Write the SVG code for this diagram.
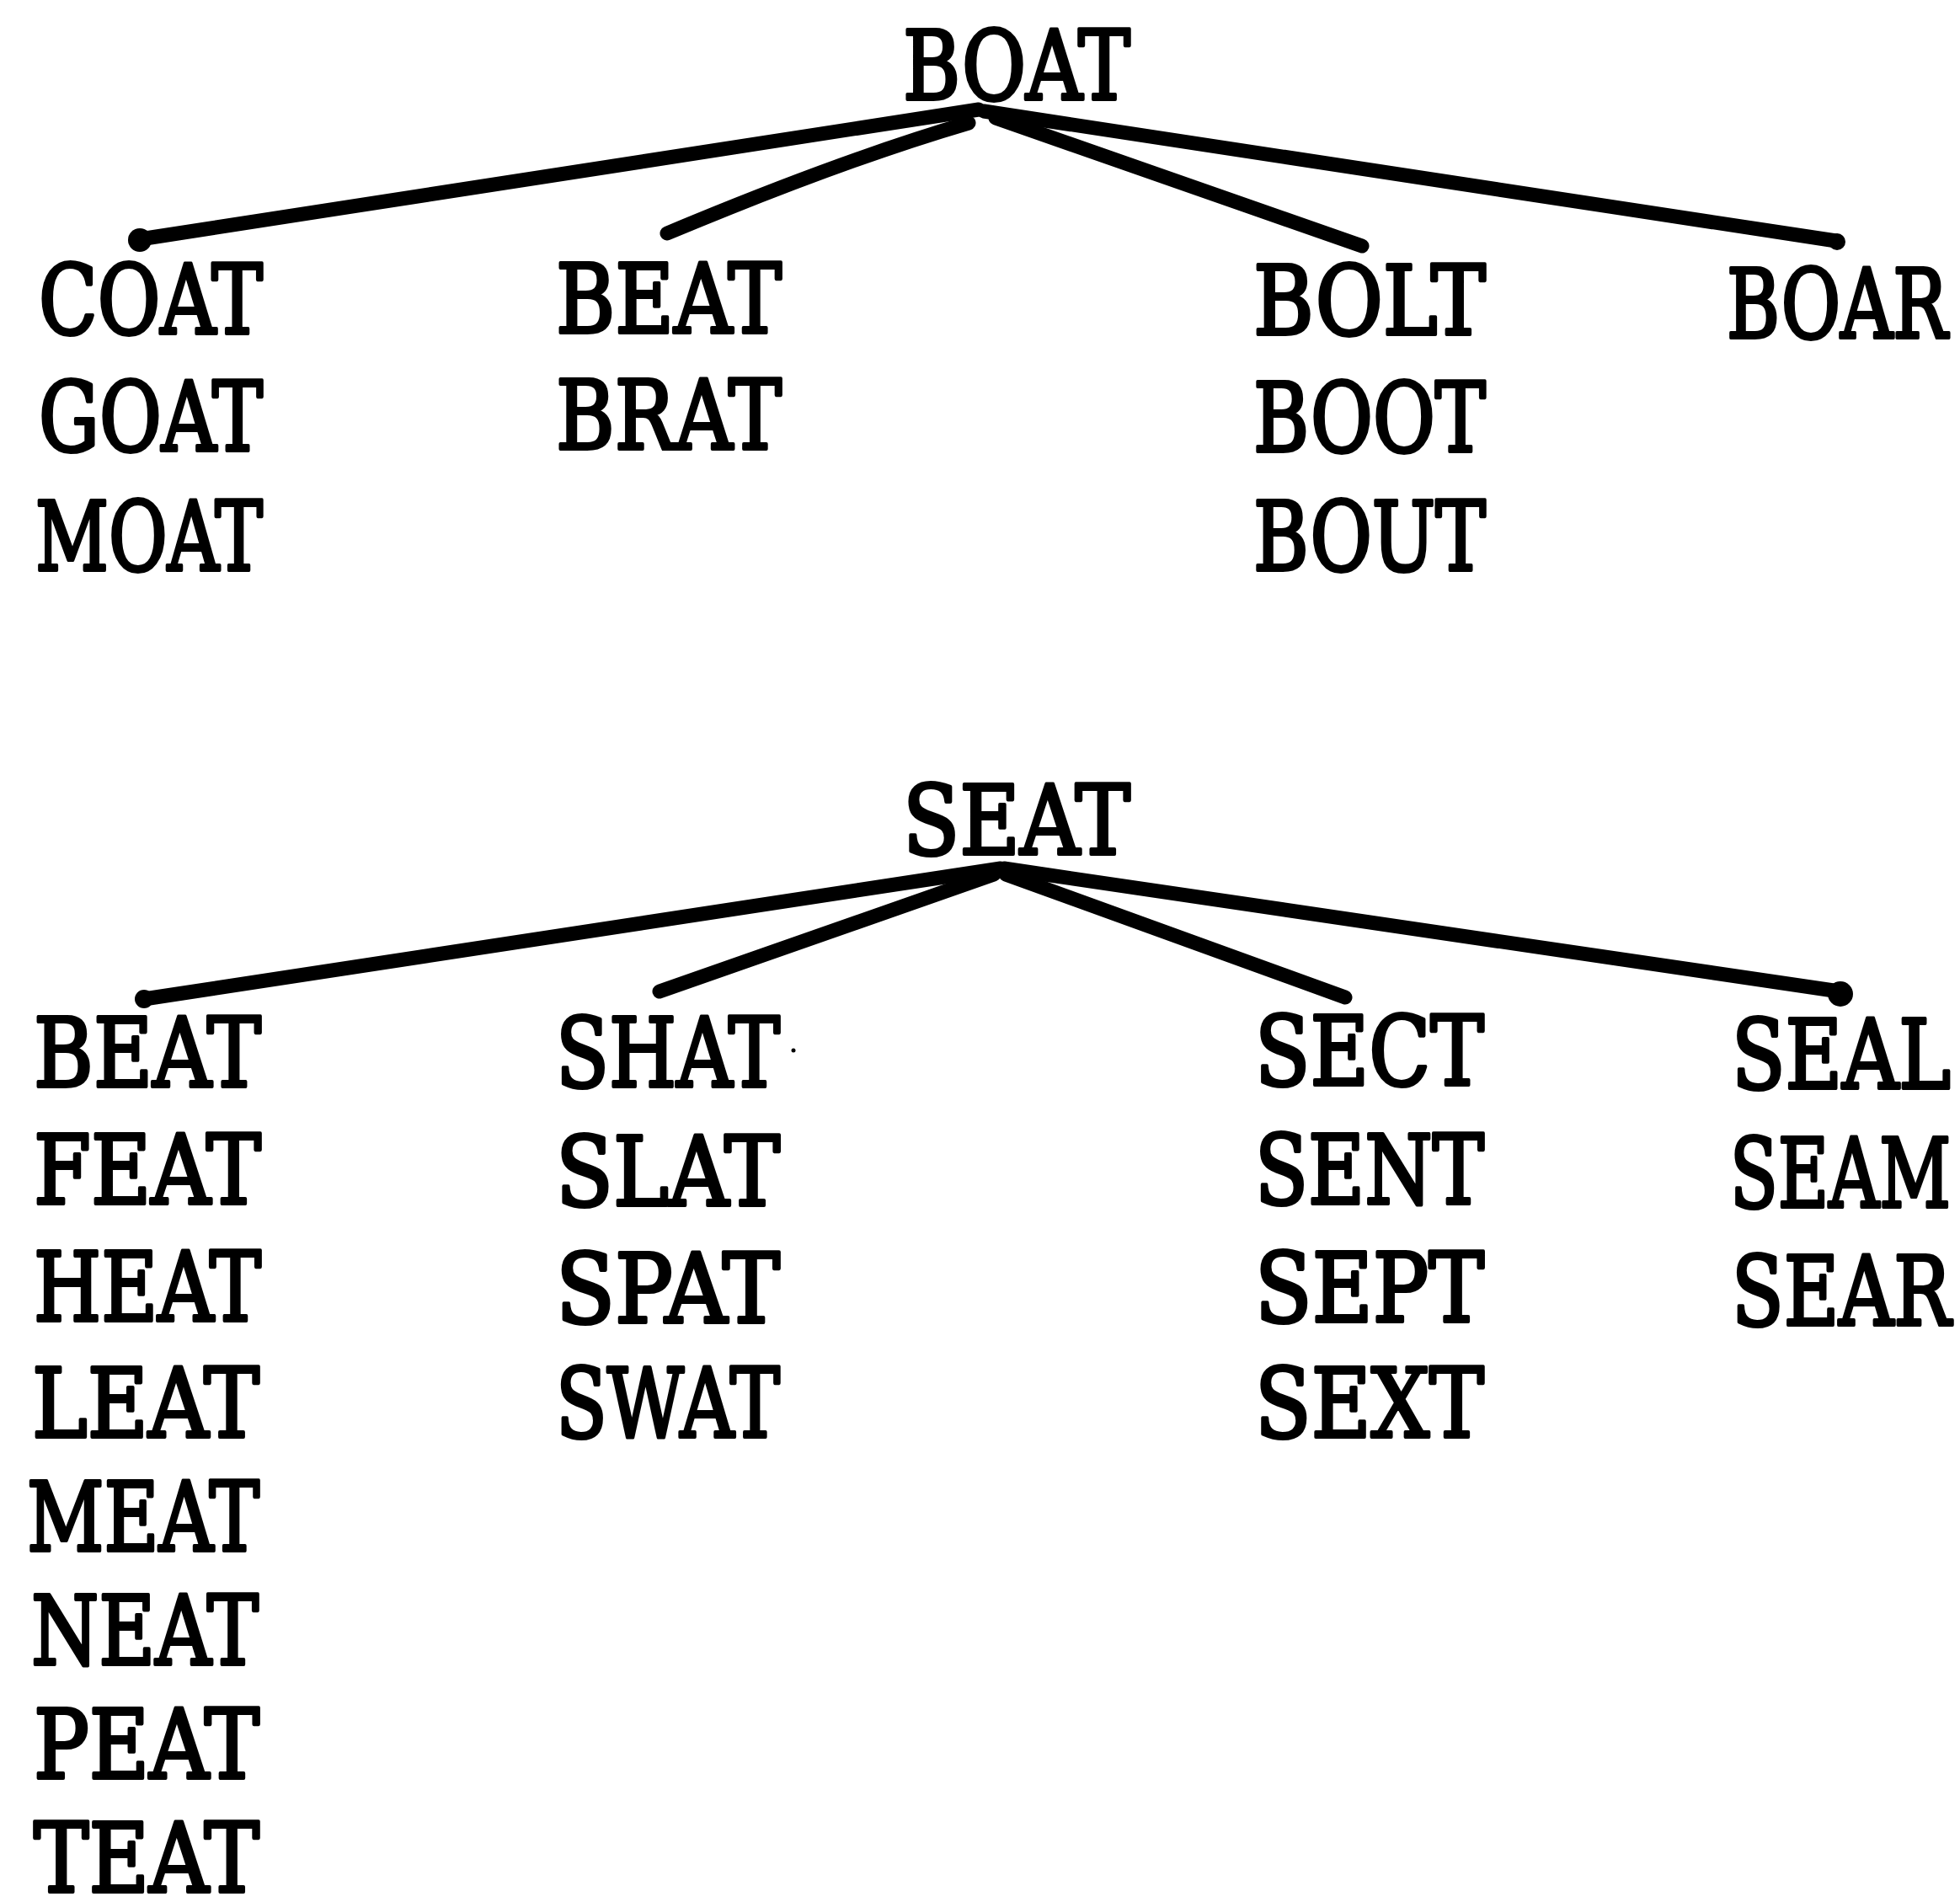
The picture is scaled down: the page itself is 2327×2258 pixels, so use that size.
<svg xmlns="http://www.w3.org/2000/svg" width="2327" height="2258" viewBox="0 0 2327 2258">
<style>
text{font-family:"DejaVu Serif","Liberation Serif",serif;font-weight:normal;font-size:92px;fill:#000;stroke:#000;stroke-width:3.4;stroke-linejoin:round}
.c{stroke:#000;stroke-linecap:round;fill:none;stroke-width:17}
</style>
<rect width="2327" height="2258" fill="#fff"/>
<g id="connectors">
<line class="c" x1="1162" y1="130" x2="166" y2="284"/>
<path class="c" d="M1150 146 Q1000 190 792 277"/>
<line class="c" x1="1182" y1="140" x2="1617" y2="292"/>
<line class="c" x1="1168" y1="132" x2="2180" y2="286"/>
<circle cx="166" cy="285" r="14"/>
<circle cx="2181" cy="287" r="10"/>
<line class="c" x1="1188" y1="1031" x2="171" y2="1186"/>
<line class="c" x1="1180" y1="1038" x2="783" y2="1177"/>
<line class="c" x1="1194" y1="1038" x2="1597" y2="1184"/>
<line class="c" x1="1192" y1="1031" x2="2184" y2="1177"/>
<circle cx="2185" cy="1180" r="15"/>
<circle cx="171" cy="1186" r="11"/>
</g>
<g id="boat"><text transform="translate(1072,118) scale(1,1.24)" textLength="270" lengthAdjust="spacingAndGlyphs">BOAT</text></g>
<g id="col-coat">
<text transform="translate(46,396) scale(1,1.24)" textLength="266" lengthAdjust="spacingAndGlyphs">COAT</text>
<text transform="translate(46,535) scale(1,1.24)" textLength="266" lengthAdjust="spacingAndGlyphs">GOAT</text>
<text transform="translate(42,677) scale(1,1.24)" textLength="270" lengthAdjust="spacingAndGlyphs">MOAT</text>
</g>
<g id="col-beat">
<text transform="translate(660,395) scale(1,1.24)" textLength="268" lengthAdjust="spacingAndGlyphs">BEAT</text>
<text transform="translate(660,533) scale(1,1.24)" textLength="268" lengthAdjust="spacingAndGlyphs">BRAT</text>
</g>
<g id="col-bolt">
<text transform="translate(1488,397) scale(1,1.24)" textLength="276" lengthAdjust="spacingAndGlyphs">BOLT</text>
<text transform="translate(1488,536) scale(1,1.24)" textLength="276" lengthAdjust="spacingAndGlyphs">BOOT</text>
<text transform="translate(1488,677) scale(1,1.24)" textLength="276" lengthAdjust="spacingAndGlyphs">BOUT</text>
</g>
<g id="col-boar"><text transform="translate(2050,401) scale(1,1.24)" textLength="262" lengthAdjust="spacingAndGlyphs">BOAR</text></g>
<g id="seat"><text transform="translate(1072,1014) scale(1,1.24)" textLength="270" lengthAdjust="spacingAndGlyphs">SEAT</text></g>
<g id="col-beat2">
<text transform="translate(40,1290) scale(1,1.24)" textLength="270" lengthAdjust="spacingAndGlyphs">BEAT</text>
<text transform="translate(40,1429) scale(1,1.24)" textLength="270" lengthAdjust="spacingAndGlyphs">FEAT</text>
<text transform="translate(40,1568) scale(1,1.24)" textLength="270" lengthAdjust="spacingAndGlyphs">HEAT</text>
<text transform="translate(38,1706) scale(1,1.24)" textLength="270" lengthAdjust="spacingAndGlyphs">LEAT</text>
<text transform="translate(32,1841) scale(1,1.24)" textLength="276" lengthAdjust="spacingAndGlyphs">MEAT</text>
<text transform="translate(37,1976) scale(1,1.24)" textLength="270" lengthAdjust="spacingAndGlyphs">NEAT</text>
<text transform="translate(40,2111) scale(1,1.24)" textLength="268" lengthAdjust="spacingAndGlyphs">PEAT</text>
<text transform="translate(40,2246) scale(1,1.24)" textLength="268" lengthAdjust="spacingAndGlyphs">TEAT</text>
</g>
<g id="col-shat">
<text transform="translate(660,1290) scale(1,1.24)" textLength="266" lengthAdjust="spacingAndGlyphs">SHAT</text>
<circle cx="942" cy="1247" r="2.5"/>
<text transform="translate(660,1431) scale(1,1.24)" textLength="266" lengthAdjust="spacingAndGlyphs">SLAT</text>
<text transform="translate(660,1570) scale(1,1.24)" textLength="266" lengthAdjust="spacingAndGlyphs">SPAT</text>
<text transform="translate(660,1706) scale(1,1.24)" textLength="266" lengthAdjust="spacingAndGlyphs">SWAT</text>
</g>
<g id="col-sect">
<text transform="translate(1490,1288) scale(1,1.24)" textLength="272" lengthAdjust="spacingAndGlyphs">SECT</text>
<text transform="translate(1490,1429) scale(1,1.24)" textLength="272" lengthAdjust="spacingAndGlyphs">SENT</text>
<text transform="translate(1490,1569) scale(1,1.24)" textLength="272" lengthAdjust="spacingAndGlyphs">SEPT</text>
<text transform="translate(1490,1706) scale(1,1.24)" textLength="272" lengthAdjust="spacingAndGlyphs">SEXT</text>
</g>
<g id="col-seal">
<text transform="translate(2056,1292) scale(1,1.24)" textLength="260" lengthAdjust="spacingAndGlyphs">SEAL</text>
<text transform="translate(2054,1433) scale(1,1.24)" textLength="262" lengthAdjust="spacingAndGlyphs">SEAM</text>
<text transform="translate(2056,1573) scale(1,1.24)" textLength="260" lengthAdjust="spacingAndGlyphs">SEAR</text>
</g>
</svg>
